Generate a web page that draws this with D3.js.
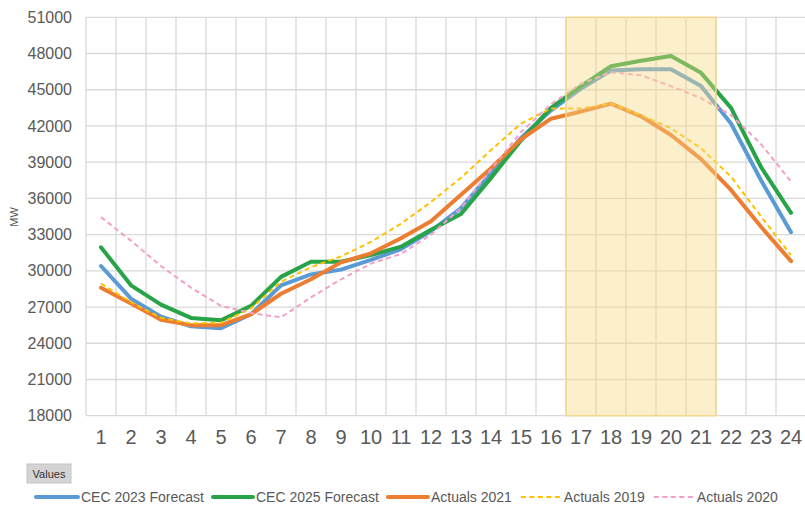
<!DOCTYPE html>
<html>
<head>
<meta charset="utf-8">
<script src="https://cdn.jsdelivr.net/npm/d3@7"></script>
<style>
  body { margin: 0; background: #fff; }
  svg { display: block; font-family: "Liberation Sans", Arial, sans-serif; }
</style>
</head>
<body>
<div id="container"><svg></svg></div>
<script>
let width = 805;
let height = 505;

// hours of the day
let hours = d3.range(1, 25);
let yTicks = d3.range(18000, 51001, 3000);

// MW values
let cec2023 = [30400, 27700, 26200, 25400, 25250, 26400, 28800, 29700, 30100, 30900, 31800, 33300,
               35200, 38100, 41000, 43300, 45100, 46600, 46700, 46700, 45300, 42200, 37500, 33200];
let cec2025 = [31950, 28800, 27200, 26100, 25900, 27100, 29500, 30750, 30750, 31300, 32000, 33400,
               34700, 37700, 40800, 43500, 45300, 46950, 47400, 47800, 46400, 43500, 38600, 34800];
let act2021 = [28600, 27300, 25950, 25500, 25500, 26400, 28100, 29300, 30700, 31450, 32700, 34100,
               36300, 38500, 40900, 42600, 43200, 43850, 42800, 41250, 39250, 36700, 33650, 30800];
let act2019 = [28950, 27400, 26100, 25650, 25700, 26900, 29100, 30300, 31200, 32400, 33900, 35700,
               37700, 40000, 42200, 43450, 43450, 43850, 42900, 41800, 40150, 37800, 34500, 31300];
let act2020 = [34450, 32500, 30400, 28600, 27100, 26500, 26150, 27800, 29300, 30600, 31400, 33000,
               35200, 38400, 41500, 43800, 45500, 46450, 46200, 45300, 44300, 42900, 40500, 37400];

// peak window shaded on the chart
let peakHours = [17, 21];

let series = [
    {name: "CEC 2023 Forecast", values: cec2023, color: "#5b9bd5", dash: null},
    {name: "CEC 2025 Forecast", values: cec2025, color: "#27a348", dash: null},
    {name: "Actuals 2021", values: act2021, color: "#ed7d31", dash: null},
    {name: "Actuals 2019", values: act2019, color: "#ffc000", dash: "5,3.5"},
    {name: "Actuals 2020", values: act2020, color: "#f4a0c6", dash: "5,3.5"}
];

let svg = d3.select('#container').select('svg')
    .attr('width', width)
    .attr('height', height);

let x = d3.scaleBand().domain(hours).range([86, 806]);
let y = d3.scaleLinear().domain([18000, 51000]).range([415.7, 17.3]);

// gridlines
let grid = svg.append("g").attr("stroke", "#d9d9d9").attr("stroke-width", 1.3);
grid.selectAll("line.h")
    .data(yTicks)
    .join("line")
    .attr("class", "h")
    .attr("x1", 86).attr("x2", 806)
    .attr("y1", d => y(d)).attr("y2", d => y(d));
grid.selectAll("line.v")
    .data(hours)
    .join("line")
    .attr("class", "v")
    .attr("x1", d => x(d)).attr("x2", d => x(d))
    .attr("y1", y(51000)).attr("y2", y(18000));

// y axis labels
let yAxis = svg.append("g")
    .attr("transform", "translate(77,0)")
    .call(d3.axisLeft(y).tickValues(yTicks).tickSize(0).tickPadding(5).tickFormat(d3.format("d")));
yAxis.select(".domain").remove();
yAxis.selectAll("text")
    .attr("fill", "#595959")
    .style("font-size", "16px")
    .style("font-family", "Liberation Sans, Arial, sans-serif");

// x axis labels
let xAxis = svg.append("g")
    .attr("transform", "translate(0,426)")
    .call(d3.axisBottom(x).tickSize(0).tickPadding(4));
xAxis.select(".domain").remove();
xAxis.selectAll("text")
    .attr("fill", "#595959")
    .style("font-size", "20px")
    .style("font-family", "Liberation Sans, Arial, sans-serif");

svg.append("text")
    .attr("transform", "translate(18,217) rotate(-90)")
    .attr("text-anchor", "middle")
    .attr("fill", "#595959")
    .style("font-size", "11px")
    .text("MW");

// lines
let line = d3.line()
    .x((d, i) => x(hours[i]) + x.bandwidth() / 2)
    .y(d => y(d));

svg.append("g")
    .selectAll("path")
    .data(series)
    .join("path")
    .attr("fill", "none")
    .attr("stroke", d => d.color)
    .attr("stroke-width", d => d.dash ? 2 : 4)
    .attr("stroke-dasharray", d => d.dash)
    .attr("stroke-linejoin", "round")
    .attr("stroke-linecap", d => d.dash ? "butt" : "round")
    .attr("d", d => line(d.values));

// peak shading drawn over the lines
svg.append("rect")
    .attr("x", x(peakHours[0]))
    .attr("y", y(51000))
    .attr("width", x(peakHours[1]) + x.bandwidth() - x(peakHours[0]))
    .attr("height", y(18000) - y(51000))
    .attr("fill", "#f5da85")
    .attr("fill-opacity", 0.42)
    .attr("stroke", "#f3d98e")
    .attr("stroke-width", 1.5);

// "Values" field button
let btn = svg.append("g").attr("transform", "translate(27,464)");
btn.append("rect")
    .attr("width", 44).attr("height", 19)
    .attr("fill", "#d4d4d4")
    .attr("stroke", "#c4c4c4");
btn.append("text")
    .attr("x", 22).attr("y", 13.5)
    .attr("text-anchor", "middle")
    .attr("fill", "#333")
    .style("font-size", "11px")
    .text("Values");

// legend
let legend = svg.append("g").attr("transform", "translate(0,497)");
let lx = 36;
series.forEach(function(s, i) {
    let len = i == 0 ? 42 : 40;
    legend.append("line")
        .attr("x1", lx).attr("x2", lx + len)
        .attr("stroke", s.color)
        .attr("stroke-width", s.dash ? 2 : 4)
        .attr("stroke-dasharray", s.dash)
        .attr("stroke-linecap", s.dash ? "butt" : "round");
    let t = legend.append("text")
        .attr("x", lx + len + 3)
        .attr("y", 5)
        .attr("fill", "#595959")
        .style("font-size", "14px")
        .text(s.name);
    lx = lx + len + 3 + t.node().getComputedTextLength() + 9;
});
</script>
</body>
</html>
